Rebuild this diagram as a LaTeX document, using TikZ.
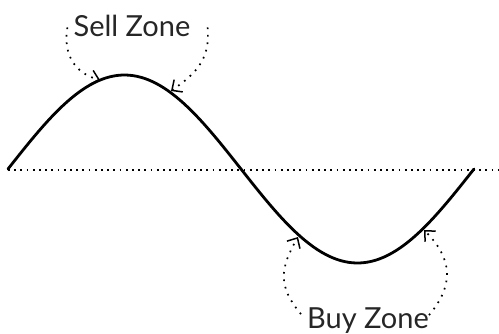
\documentclass[tikz,border=0pt]{standalone}
\usepackage{fontspec}
\setmainfont{Lato}
\usetikzlibrary{arrows.meta}
\tikzset{
  dots/.style={line width=1.8pt,dash pattern=on 1.8pt off 4.4pt},
  zonearrow/.style={line width=1.7pt,dash pattern=on 1.7pt off 5.8pt,
    -{Straight Barb[length=8pt,width=15pt,line width=1.5pt]}},
  zone/.style={font=\fontsize{29}{32}\selectfont,text=black!85,inner sep=1pt,anchor=base}
}
\begin{document}
\begin{tikzpicture}[x=1pt,y=-1pt]
  \useasboundingbox(0,0)rectangle(499,333);
  % axis and wave
  \draw[dots](8,170)--(499,170);
  \draw[line width=2.8pt,line cap=round]plot[domain=0:360,samples=120]({8+1.2944*\x},{169-94*sin(\x)});
  \node[zone](sell)at(132,36){Sell Zone};
  \node[zone](buy)at(368,328){Buy Zone};
  \coordinate(sellL)at(100,80);
  \coordinate(sellR)at(171,91);
  \coordinate(buyL)at(298,237);
  \coordinate(buyR)at(424,230);
  \draw[zonearrow]([xshift=-5pt,yshift=-2pt]sell.west)to[out=-100,in=165,looseness=1.1](sellL);
  \draw[zonearrow]([xshift=16pt,yshift=-2pt]sell.east)to[out=-85,in=35,looseness=1.1](sellR);
  \draw[zonearrow]([xshift=-5pt,yshift=6pt]buy.west)to[out=130,in=240,looseness=1.2](buyL);
  \draw[zonearrow]([xshift=-1pt,yshift=5pt]buy.east)to[out=50,in=-45,looseness=1.2](buyR);
\end{tikzpicture}
\end{document}
